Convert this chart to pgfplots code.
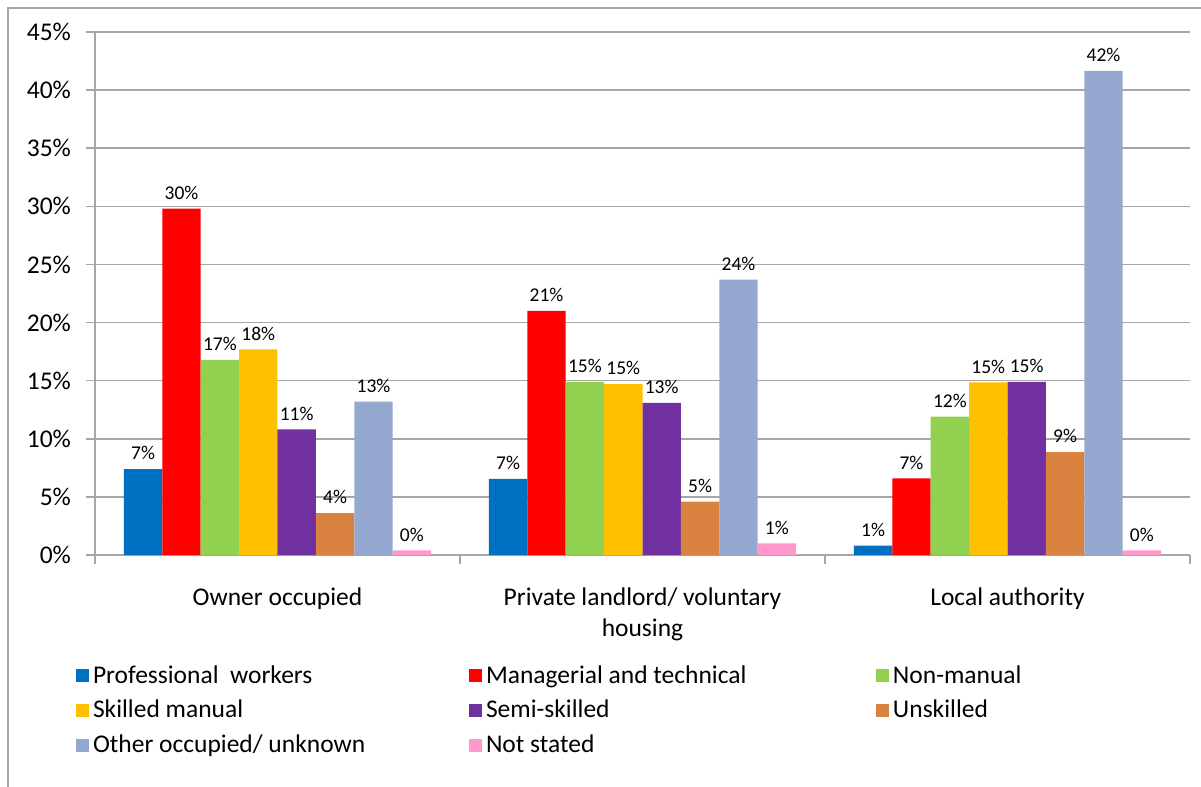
\documentclass[border=0pt]{standalone}
\usepackage{fontspec}
\setmainfont{Carlito}
\usepackage{pgfplots}
\pgfplotsset{compat=1.18}
\definecolor{cA}{HTML}{0070C0}
\definecolor{cB}{HTML}{FF0000}
\definecolor{cC}{HTML}{92D050}
\definecolor{cD}{HTML}{FFC000}
\definecolor{cE}{HTML}{7030A0}
\definecolor{cF}{HTML}{DA8240}
\definecolor{cG}{HTML}{95A9D0}
\definecolor{cH}{HTML}{FF99CC}
\definecolor{gridc}{HTML}{A6A6A6}
\newcommand{\lfont}{\fontsize{12.75}{15.5}\selectfont}
\newcommand{\legent}[2][188pt]{\makebox[#1][l]{\rule[-3.5pt]{0pt}{12pt}#2}}
\begin{document}
\begin{tikzpicture}
\useasboundingbox (0,0) rectangle (600.5pt,-393.5pt);
\draw[color=gridc, line width=0.75pt] (4pt,-393.5pt) -- (4pt,-4pt) -- (600.5pt,-4pt);
\begin{axis}[
  at={(47.5pt,-277.5pt)}, anchor=south west,
  scale only axis, width=547.5pt, height=261.5pt,
  xmin=-0.5, xmax=2.5, ymin=0, ymax=45,
  ytick={0,5,...,45},
  yticklabel={\pgfmathprintnumber{\tick}\%},
  /pgf/number format/assume math mode=true,
  xtick={-0.5,0.5,1.5,2.5},
  x tick label as interval,
  xticklabels={Owner occupied, {Private landlord/ voluntary\\housing}, Local authority},
  xticklabel style={font=\lfont, align=center, anchor=north, yshift=-8.5pt},
  yticklabel style={font=\lfont, xshift=-4pt},
  axis x line*=bottom, axis y line*=left,
  axis line style={color=gridc, line width=0.75pt},
  tick style={color=gridc, line width=0.75pt},
  tick align=outside, major tick length=4.5pt,
  ymajorgrids, grid style={color=gridc, line width=0.75pt},
  ybar=0pt, bar width=19.2pt,
  every axis plot/.append style={draw=none},
  nodes near coords={\pgfmathprintnumber[fixed,precision=0]{\pgfplotspointmeta}\%},
  every node near coord/.append style={font=\fontsize{9.75}{11}\selectfont, color=black, anchor=south, yshift=1pt},
  legend columns=3,
  legend style={draw=none, fill=none, font=\lfont, at={(-0.01735,-0.2036)}, anchor=north west, inner sep=0pt, outer sep=0pt, row sep=3pt, column sep=0pt},
  legend cell align=left,
  legend image code/.code={\fill[#1] (0pt,-3.25pt) rectangle (6.5pt,3.25pt);},
]
\addplot[fill=cA] coordinates {(0,7.4) (1,6.55) (2,0.8)};
\addplot[fill=cB] coordinates {(0,29.8) (1,21.0) (2,6.6)};
\addplot[fill=cC] coordinates {(0,16.8) (1,14.9) (2,11.9)};
\addplot[fill=cD] coordinates {(0,17.7) (1,14.7) (2,14.85)};
\addplot[fill=cE] coordinates {(0,10.8) (1,13.1) (2,14.9)};
\addplot[fill=cF] coordinates {(0,3.6) (1,4.6) (2,8.85)};
\addplot[fill=cG] coordinates {(0,13.2) (1,23.7) (2,41.65)};
\addplot[fill=cH] coordinates {(0,0.4) (1,1.0) (2,0.4)};
\addlegendentry{\legent[186pt]{Professional\ \ workers}}
\addlegendentry{\legent[193pt]{Managerial and technical}}
\addlegendentry{\legent[188pt]{Non-manual}}
\addlegendentry{\legent[186pt]{Skilled manual}}
\addlegendentry{\legent[193pt]{Semi-skilled}}
\addlegendentry{\legent[188pt]{Unskilled}}
\addlegendentry{\legent[186pt]{Other occupied/ unknown}}
\addlegendentry{\legent[193pt]{Not stated}}
\end{axis}
\end{tikzpicture}
\end{document}
